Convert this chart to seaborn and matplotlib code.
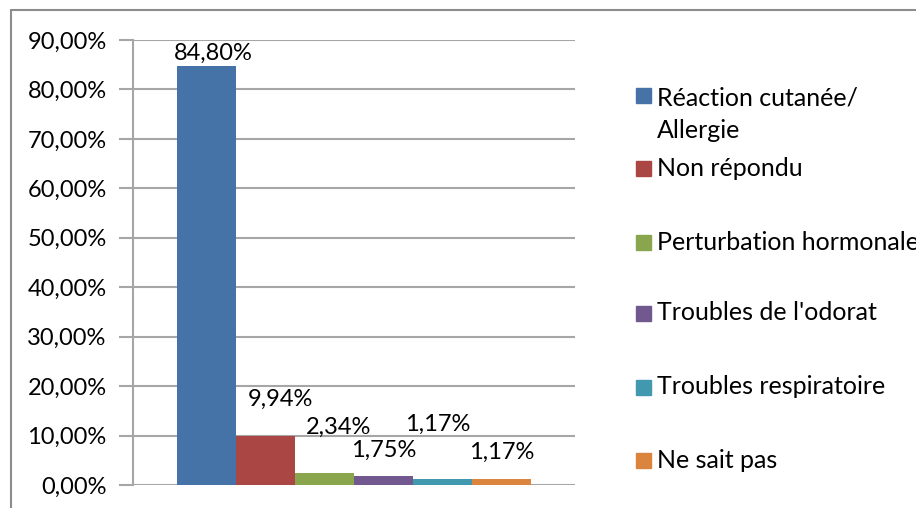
import matplotlib
matplotlib.use("Agg")
import matplotlib.pyplot as plt
import seaborn as sns
import pandas as pd
from matplotlib.patches import Rectangle
from matplotlib.lines import Line2D

categories = ["Réaction cutanée/\nAllergie", "Non répondu", "Perturbation hormonale",
              "Troubles de l'odorat", "Troubles respiratoire", "Ne sait pas"]
values = [84.80, 9.94, 2.34, 1.75, 1.17, 1.17]
value_labels = ["84,80%", "9,94%", "2,34%", "1,75%", "1,17%", "1,17%"]
yticks = [0, 10, 20, 30, 40, 50, 60, 70, 80, 90]
ytick_labels = ["0,00%", "10,00%", "20,00%", "30,00%", "40,00%", "50,00%",
                "60,00%", "70,00%", "80,00%", "90,00%"]
colors = ["#4572A7", "#AA4643", "#89A54E", "#71588F", "#4198AF", "#DB843D"]

sns.set_theme(style="white")
plt.rcParams["font.family"] = ["Lato", "DejaVu Sans"]

df = pd.DataFrame({"grp": [""] * len(values), "cat": categories, "val": values})

fig = plt.figure(figsize=(9.16, 5.08), dpi=100)
ax = fig.add_axes([133/916, 1-485/508, (575-133)/916, (485-40)/508])

sns.barplot(data=df, x="grp", y="val", hue="cat", hue_order=categories,
            palette=colors, width=0.8, gap=0, saturation=1, legend=False,
            ax=ax, edgecolor="none", linewidth=0)

ax.set_xlim(-0.5, 0.5)
ax.set_ylim(0, 90)
ax.set_yticks(yticks)
ax.set_yticklabels(ytick_labels, fontsize=17, color="black")
ax.set_xticks([])
ax.set_xlabel("")
ax.set_ylabel("")
grid_c = "#a6a6a6"
ax.yaxis.grid(True, color=grid_c, linewidth=1.5)
ax.set_axisbelow(True)
for s in ["top", "right", "bottom"]:
    ax.spines[s].set_visible(False)
ax.spines["left"].set_color(grid_c)
ax.spines["left"].set_linewidth(1.5)
ax.tick_params(axis="y", length=10, width=1.5, color=grid_c, pad=9, left=True)

# data labels (pixel offsets from bar top centre)
offsets = [(7, 12), (15, 37), (14, 46), (0, 26), (-5, 55), (0, 27)]
bars = [p for p in ax.patches if p.get_height() > 0]
bars = sorted(bars, key=lambda p: p.get_x())
for p, lab, (dx, dy) in zip(bars, value_labels, offsets):
    ax.annotate(lab, (p.get_x() + p.get_width() / 2, p.get_height()),
                xytext=(dx, dy), textcoords="offset pixels",
                ha="center", va="center", fontsize=17, color="black",
                annotation_clip=False)

# legend drawn at Excel-like positions
leg_y = [95, 168, 242, 313, 387, 460]
W, H = 916, 508
for c, lab, y in zip(colors, categories, leg_y):
    fig.patches.append(Rectangle((636/W, 1-(y+7.5)/H), 15/W, 15/H,
                                 transform=fig.transFigure, color=c))
    if "\n" in lab:
        fig.text(657/W, 1-(y-9)/H, lab, fontsize=18, va="top", ha="left",
                 linespacing=1.5, color="black", transform=fig.transFigure)
    else:
        fig.text(657/W, 1-y/H, lab, fontsize=18, va="center", ha="left",
                 color="black", transform=fig.transFigure)

# outer chart frame
fig.lines.append(Line2D([11/W, 11/W], [0, 1-10/H], transform=fig.transFigure,
                        color="#8c8c8c", linewidth=1.5))
fig.lines.append(Line2D([11/W, 1], [1-10/H, 1-10/H], transform=fig.transFigure,
                        color="#8c8c8c", linewidth=1.5))

fig.savefig("out.png", dpi=100)
